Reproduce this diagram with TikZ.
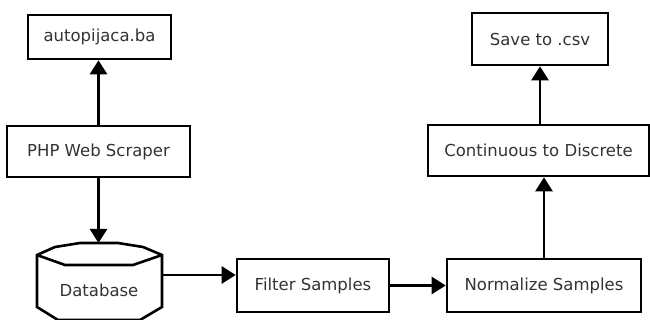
\documentclass[tikz,border=0pt]{standalone}
\usepackage{fontspec}
\setmainfont{DejaVu Sans}
\usetikzlibrary{arrows.meta}
\begin{document}
\begin{tikzpicture}[x=1pt,y=-1pt,
  box/.style={draw=black,line width=2.6pt,fill=white,inner sep=0pt,
    text=black!80,font=\fontsize{16.5}{19}\selectfont},
  arr/.style={line width=2.6pt,-{Triangle[length=14pt,width=17pt]}},
  shp/.style={line width=2.6pt,line join=miter}]
\useasboundingbox[fill=white] (0,0) rectangle (650,320);
\node[box,minimum width=143,minimum height=44] (auto) at (99.5,37) {autopijaca.ba};
\node[box,minimum width=183,minimum height=51] (php) at (98.5,151.5) {PHP Web Scraper};
\node[box,minimum width=152,minimum height=53] (filter) at (313,285.5) {Filter Samples};
\node[box,minimum width=194,minimum height=53] (norm) at (544,285.5) {Normalize Samples};
\node[box,minimum width=221,minimum height=51] (cont) at (538.5,150.5) {Continuous to Discrete};
\node[box,minimum width=136,minimum height=52] (save) at (540,39) {Save to .csv};
% database cylinder
\draw[shp,fill=white] (37,255) -- (55,247) -- (80,243) -- (118,243) -- (143,247) -- (162,255)
  -- (162,307) -- (140,320) -- (58,320) -- (37,307) -- cycle;
\draw[shp] (37,255) -- (65,265) -- (133,265) -- (162,255);
\node[box,draw=none,fill=none] (db) at (99,290) {Database};
\coordinate (dbtop) at (98.5,243);
\coordinate (dbright) at (162,275);
\draw[arr] (php.north) -- (php.north |- auto.south);
\draw[arr] (php.south) -- (dbtop);
\draw[arr] (dbright) -- (dbright -| filter.west);
\draw[arr] (filter.east) -- (norm.west);
\draw[arr] (norm.north) -- (norm.north |- cont.south);
\draw[arr] (save.south |- cont.north) -- (save.south);
\end{tikzpicture}
\end{document}
